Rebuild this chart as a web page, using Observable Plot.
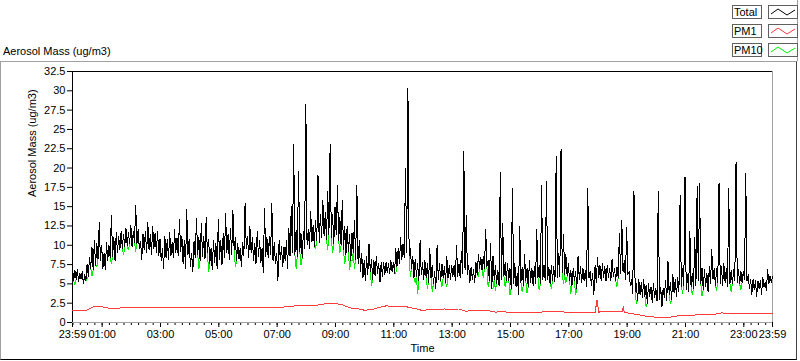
<!DOCTYPE html>
<html><head><meta charset="utf-8">
<script src="https://cdn.jsdelivr.net/npm/d3@7"></script>
<script src="https://cdn.jsdelivr.net/npm/@observablehq/plot@0.6"></script>
<style>
html,body{margin:0;padding:0;background:#fff;}
#wrap{position:relative;width:800px;height:361px;overflow:hidden;font-family:"Liberation Sans",Arial,sans-serif;font-size:11px;color:#000;}
#chart{position:absolute;left:0;top:0;}
.title{position:absolute;left:3px;top:45px;line-height:13px;white-space:nowrap;}
.panel{position:absolute;left:0;top:61px;width:795px;height:297px;border-top:1px solid #a0a0a0;border-left:1px solid #a0a0a0;border-right:1px solid #404040;border-bottom:1px solid #000;}
.vline{position:absolute;left:797px;top:0;width:1px;height:61px;background:#a0a0a0;}
.lab{position:absolute;left:732px;width:27px;height:12px;border:1px solid #606060;line-height:12px;padding-left:1px;white-space:nowrap;background:#fff;}
.sw{position:absolute;left:768px;width:28px;height:12px;border:1px solid #606060;background:#fff;}
.sw svg{display:block;}
.crisp path{shape-rendering:crispEdges;}
</style>
</head><body>
<div id="wrap">
  <div class="panel"></div>
  <div class="vline"></div>
  <div class="title">Aerosol Mass (ug/m3)</div>
  <div id="legend"></div>
  <div id="chart"></div>
</div>
<script>
// ---------- data ----------
const seriesNames = ["Total", "PM1", "PM10"];
const seriesColors = ["#000000", "#ff3c3c", "#00f000"];
const yTitle = "Aerosol Mass (ug/m3)";
const xTitle = "Time";
const yTickValues = [0,2.5,5,7.5,10,12.5,15,17.5,20,22.5,25,27.5,30,32.5];
const xTickLabels = ["23:59","01:00","03:00","05:00","07:00","09:00","11:00","13:00","15:00","17:00","19:00","21:00","23:00","23:59"];
// Total & PM10: readings every 2.5 min from 23:59; "A" at 0, 5, 10 ... min (upper side), "B" at 2.5, 7.5 ... min (lower side)
const totalA = [
7.2,6.8,6.9,6.4,6.6,6.2,7.6,8.4,9.8,10.6,
10.2,12.9,10.0,9.0,10.3,10.0,13.9,11.0,11.6,11.2,
11.8,11.4,12.2,11.6,12.6,11.8,15.2,12.0,10.5,11.5,
11.8,12.9,11.4,12.4,11.6,11.8,10.8,9.6,11.2,10.8,
11.6,10.4,12.0,11.0,13.3,11.2,10.6,14.7,10.8,9.0,
10.5,13.5,11.0,12.8,11.2,13.6,10.8,9.6,10.6,10.2,
13.4,10.6,11.6,14.1,11.4,12.2,14.5,11.0,10.2,9.6,
10.4,15.4,11.2,12.4,11.0,10.2,11.8,10.6,9.6,14.8,
11.0,11.2,15.4,10.4,9.0,10.6,9.8,9.8,10.6,12.2,
15.0,23.0,12.0,19.6,11.6,11.8,28.3,12.0,14.4,12.6,
13.2,19.1,14.0,15.8,14.2,17.0,23.1,14.0,15.0,17.7,
13.6,15.8,12.4,12.5,11.4,11.6,13.2,17.7,10.6,9.0,
8.0,8.6,10.2,8.2,8.0,8.6,7.6,7.8,7.8,7.8,
7.6,8.0,7.8,9.6,9.6,11.0,10.2,19.9,30.3,9.6,
8.6,8.2,7.6,10.6,7.8,8.0,7.6,9.6,7.4,6.6,
10.0,7.6,7.6,7.2,8.6,7.4,7.4,7.4,10.0,7.6,
9.2,22.1,13.8,7.4,7.2,6.8,7.8,8.8,8.4,8.6,
12.1,8.0,10.2,8.6,7.4,6.8,19.4,12.8,7.8,7.6,
7.0,17.4,7.6,6.4,12.5,7.2,8.8,7.0,8.0,7.0,
7.2,12.1,7.4,17.7,7.4,18.3,7.2,7.4,7.2,21.5,
9.0,22.5,11.4,8.8,7.6,6.8,7.0,6.6,8.6,7.2,
7.0,6.8,17.4,6.6,6.4,7.4,8.4,7.4,7.6,7.2,
7.4,7.0,8.2,7.0,7.2,11.5,13.2,8.0,12.3,6.6,
5.6,17.0,5.0,5.6,5.2,5.6,4.8,5.0,4.6,5.0,
4.4,17.0,4.6,4.4,5.4,7.9,5.2,6.2,5.6,5.8,
16.4,7.0,18.8,6.2,11.8,6.4,11.0,17.6,18.0,7.0,
6.8,6.4,7.2,9.5,7.0,7.0,18.0,7.2,7.6,7.0,
17.4,6.8,6.8,20.8,6.8,6.6,6.6,19.3,6.2,5.6,
5.6,5.4,5.4,5.4,5.8,5.2,6.9,6.0,6.0
];
const totalB = [
5.4,5.6,5.3,5.6,5.0,5.4,6.0,7.0,6.8,7.4,
8.2,8.0,7.0,6.8,8.0,8.4,8.6,8.0,9.0,9.4,
9.6,9.8,10.0,10.2,9.8,10.4,10.2,9.6,8.2,9.4,
9.0,9.4,8.8,9.6,9.0,8.6,8.0,7.0,8.4,8.2,
8.6,8.4,9.0,8.6,9.2,7.6,7.0,8.8,7.2,6.6,
8.4,8.8,8.0,8.6,8.2,9.0,7.6,6.8,7.8,7.0,
8.2,7.4,8.4,9.0,8.2,8.8,9.4,8.0,8.2,7.2,
8.6,9.6,8.4,9.0,8.0,7.6,8.6,7.8,6.4,8.6,
8.4,8.8,8.0,7.6,5.4,8.2,7.2,8.0,7.0,8.6,
9.0,8.8,8.6,9.2,8.4,9.6,10.0,9.6,10.4,9.8,
10.6,10.4,11.0,11.2,10.8,11.4,11.0,10.2,11.4,10.6,
10.0,9.4,8.8,9.2,8.0,9.0,8.2,7.6,6.6,5.8,
5.4,6.2,6.6,5.6,6.0,6.4,5.2,6.0,6.2,6.4,
6.4,6.6,6.4,7.2,7.6,8.2,8.4,9.0,8.6,7.0,
5.8,6.0,5.4,6.2,5.6,5.8,5.2,5.8,5.0,4.4,
5.6,5.4,5.8,5.2,5.8,5.6,6.0,5.4,6.0,5.8,
6.4,6.8,6.2,5.2,5.6,5.2,6.2,7.0,6.8,7.0,
7.2,5.4,4.4,5.6,5.0,4.8,5.6,6.0,5.4,5.4,
4.4,5.0,4.6,3.6,5.2,4.8,5.4,4.6,5.2,4.8,
5.0,5.8,5.0,5.6,5.4,5.6,5.0,5.4,5.2,5.8,
6.0,6.4,6.2,6.0,5.4,4.8,5.4,4.4,5.6,5.2,
5.4,4.6,5.8,4.8,3.6,5.2,5.8,5.4,5.8,5.4,
5.8,5.4,6.0,5.4,5.8,6.4,6.6,5.6,6.2,4.8,
3.8,4.0,2.8,3.6,3.2,3.4,2.5,3.4,2.6,3.2,
2.8,3.0,2.0,3.2,2.8,3.6,3.0,3.8,3.4,4.0,
4.6,4.8,4.2,4.0,4.6,4.4,4.8,5.4,5.0,4.2,
4.6,4.0,5.0,5.6,4.8,5.2,5.0,4.8,5.2,4.6,
5.0,5.0,5.4,5.2,5.0,5.2,5.6,5.4,4.4,3.6,
4.2,3.4,4.4,3.6,4.6,4.2,5.0,5.2
];
const pm10A = [
7.2,4.9,6.9,6.4,6.6,6.2,5.6,8.4,6.0,10.6,
7.2,12.9,10.0,9.0,10.3,10.0,7.6,11.0,11.6,11.2,
11.8,8.8,12.2,9.4,12.6,11.8,9.2,12.0,10.5,11.5,
11.8,12.9,11.4,12.4,11.6,11.8,10.8,9.6,11.2,10.8,
11.6,10.4,12.0,11.0,13.3,11.2,10.6,14.7,10.8,9.0,
10.5,13.5,7.0,12.8,11.2,13.6,6.6,9.6,10.6,10.2,
13.4,10.6,11.6,14.1,11.4,12.2,14.5,7.2,10.2,9.6,
10.4,15.4,11.2,12.4,11.0,10.2,11.8,10.6,9.6,14.8,
11.0,11.2,15.4,10.4,9.0,10.6,9.8,9.8,10.6,12.2,
15.0,23.0,7.0,19.6,7.4,11.8,28.3,12.0,14.4,12.6,
9.6,19.1,14.0,15.8,14.2,9.4,23.1,9.0,15.0,17.7,
9.0,15.8,7.6,12.5,6.8,8.0,7.0,17.7,10.6,9.0,
8.0,8.6,10.2,4.8,8.0,8.6,7.6,7.8,7.8,7.8,
7.6,8.0,7.8,6.4,9.6,11.0,10.2,19.9,30.3,6.0,
8.6,5.2,3.7,10.6,7.8,8.0,4.4,9.6,4.0,6.6,
10.0,7.6,4.6,7.2,4.6,7.4,7.4,7.4,10.0,7.6,
9.2,22.1,13.8,7.4,7.2,6.8,7.8,6.0,8.4,5.8,
12.1,4.6,10.2,4.4,4.2,6.8,19.4,12.8,4.6,7.6,
3.6,17.4,7.6,6.4,12.5,4.0,8.8,3.8,8.0,7.0,
7.2,12.1,4.2,17.7,7.4,18.3,7.2,4.4,7.2,21.5,
9.0,22.5,5.0,5.2,7.6,3.8,7.0,3.6,8.6,7.2,
7.0,6.8,17.4,6.6,6.4,7.4,8.4,7.4,7.6,7.2,
7.4,7.0,8.2,7.0,4.6,11.5,13.2,8.0,12.3,6.6,
5.6,17.0,2.4,5.6,5.2,5.6,2.0,5.0,4.6,5.0,
4.4,17.0,4.6,4.4,5.4,7.9,2.4,6.2,5.6,5.8,
16.4,3.8,18.8,6.2,11.8,3.6,11.0,17.6,18.0,3.4,
6.8,6.4,7.2,9.5,7.0,4.2,18.0,7.2,7.6,7.0,
17.4,4.0,6.8,20.8,6.8,4.2,6.6,19.3,6.2,5.6,
5.6,5.4,5.4,5.4,5.8,5.2,6.9,6.0,6.0
];
const pm10B = [
5.4,5.6,5.3,5.6,5.0,5.4,6.0,7.0,6.8,7.4,
8.2,8.0,7.0,6.8,8.0,8.4,8.6,8.0,9.0,9.4,
9.6,9.8,10.0,10.2,9.8,10.4,10.2,9.6,8.2,9.4,
9.0,9.4,8.8,9.6,9.0,8.6,8.0,7.0,8.4,8.2,
8.6,8.4,9.0,8.6,9.2,7.6,7.0,8.8,7.2,6.6,
8.4,8.8,8.0,8.6,8.2,9.0,7.6,6.8,7.8,7.0,
8.2,7.4,8.4,9.0,8.2,8.8,9.4,8.0,8.2,7.2,
8.6,9.6,8.4,9.0,8.0,7.6,8.6,7.8,6.4,8.6,
8.4,8.8,8.0,7.6,5.4,8.2,7.2,8.0,7.0,8.6,
9.0,8.8,8.6,9.2,8.4,9.6,10.0,9.6,10.4,9.8,
10.6,10.4,11.0,11.2,10.8,11.4,11.0,10.2,11.4,10.6,
10.0,9.4,8.8,9.2,8.0,9.0,8.2,7.6,6.6,5.8,
5.4,6.2,6.6,5.6,6.0,6.4,5.2,6.0,6.2,6.4,
6.4,6.6,6.4,7.2,7.6,8.2,8.4,9.0,8.6,7.0,
5.8,6.0,5.4,6.2,5.6,5.8,5.2,5.8,5.0,4.4,
5.6,5.4,5.8,5.2,5.8,5.6,6.0,5.4,6.0,5.8,
6.4,6.8,6.2,5.2,5.6,5.2,6.2,7.0,6.8,7.0,
7.2,5.4,4.4,5.6,5.0,4.8,5.6,6.0,5.4,5.4,
4.4,5.0,4.6,3.6,5.2,4.8,5.4,4.6,5.2,4.8,
5.0,5.8,5.0,5.6,5.4,5.6,5.0,5.4,5.2,5.8,
6.0,6.4,6.2,6.0,5.4,4.8,5.4,4.4,5.6,5.2,
5.4,4.6,5.8,4.8,3.6,5.2,5.8,5.4,5.8,5.4,
5.8,5.4,6.0,5.4,5.8,6.4,6.6,5.6,6.2,4.8,
3.8,4.0,2.8,3.6,3.2,3.4,2.5,3.4,2.6,3.2,
2.8,3.0,2.0,3.2,2.8,3.6,3.0,3.8,3.4,4.0,
4.6,4.8,4.2,4.0,4.6,4.4,4.8,5.4,5.0,4.2,
4.6,4.0,5.0,5.6,4.8,5.2,5.0,4.8,5.2,4.6,
5.0,5.0,5.4,5.2,5.0,5.2,5.6,5.4,4.4,3.6,
4.2,3.4,4.4,3.6,4.6,4.2,5.0,5.2
];
// PM1: [minutes after 23:59, value]
const pm1 = [
[0,1.5],[15,1.5],[30,1.6],[45,2.1],[60,2.05],[75,1.85],[90,1.85],[105,1.9],[120,1.9],[135,1.95],
[150,1.9],[165,1.95],[180,1.9],[195,1.95],[210,1.9],[225,1.95],[240,1.9],[255,1.95],[270,1.9],[285,1.9],
[300,1.9],[315,1.95],[330,1.9],[345,1.95],[360,1.9],[375,1.95],[390,1.9],[405,1.95],[420,1.95],[435,2.0],
[450,2.1],[465,2.2],[480,2.25],[495,2.2],[510,2.3],[525,2.5],[540,2.45],[555,2.3],[570,1.9],[585,1.8],
[600,1.6],[615,1.65],[630,1.95],[645,2.15],[660,2.1],[675,2.1],[690,2.0],[705,1.8],[720,1.55],[735,1.7],
[750,1.7],[765,1.75],[780,1.7],[795,1.75],[810,1.45],[825,1.6],[840,1.6],[855,1.55],[870,1.35],[885,1.4],
[900,1.3],[915,1.25],[930,1.3],[945,1.3],[960,1.3],[975,1.45],[990,1.45],[1005,1.4],[1020,1.3],[1035,1.3],
[1050,1.3],[1065,1.25],[1076,1.3],[1078,2.9],[1080,2.8],[1082,1.35],[1095,1.4],[1110,1.4],[1125,1.4],[1131,1.35],
[1133,2.1],[1135,1.3],[1140,1.25],[1155,1.1],[1170,0.95],[1185,0.75],[1200,0.7],[1215,0.65],[1230,0.7],[1245,0.85],
[1260,0.9],[1275,0.95],[1290,1.0],[1305,1.0],[1320,1.05],[1335,1.25],[1350,1.15],[1365,1.15],[1380,1.2],[1395,1.15],
[1410,1.15],[1425,1.15],[1440,1.15]
];

// ---------- build ----------
const t0 = new Date(Date.UTC(2000,0,1,23,59));
const t1 = new Date(Date.UTC(2000,0,2,23,59));
const tAt = m => new Date(t0.getTime() + m*60000);
function interleave(A, B) {
  const out = [];
  A.forEach((v, i) => {
    out.push({t: tAt(i*5), v});
    if (i < B.length) out.push({t: tAt(i*5 + 2.5), v: B[i]});
  });
  return out;
}
const totalData = interleave(totalA, totalB);
const pm10Data = interleave(pm10A, pm10B);
const pm1Data = pm1.map(([m,v]) => ({t: tAt(m), v}));

const majorTicks = xTickLabels.map((s,i) => {
  const [h,mm] = s.split(":").map(Number);
  return new Date(Date.UTC(2000,0,i===0?1:2,h,mm));
});
const minorTicks = d3.utcMinute.every(15).range(t0, t1);
const fmt = d3.utcFormat("%H:%M");

const plot = Plot.plot({
  width: 800, height: 361,
  marginLeft: 72, marginRight: 28, marginTop: 71, marginBottom: 39,
  style: {background: "transparent", fontFamily: "'Liberation Sans', Arial, sans-serif", fontSize: "11px", color: "#000"},
  x: {type: "utc", domain: [t0, t1]},
  y: {domain: [0, 32.5]},
  marks: [
    Plot.axisY({ticks: yTickValues, tickSize: 5, tickPadding: 2, tickFormat: d => String(d), label: null}),
    Plot.axisX({ticks: minorTicks, tickSize: 3, tickFormat: () => "", label: null}),
    Plot.axisX({ticks: majorTicks, tickSize: 5, tickPadding: 3, tickFormat: d => fmt(d), label: null}),
    Plot.text([xTitle], {frameAnchor: "bottom", dy: 29, fill: "#000"}),
    Plot.text([yTitle], {frameAnchor: "left", rotate: -90, dx: -40, fill: "#000"}),
    Plot.ruleY([0], {stroke: "#a0a0a0"}),
    Plot.ruleX([t1], {stroke: "#a0a0a0"}),
    Plot.ruleY([32.5], {stroke: "#000"}),
    Plot.ruleX([t0], {stroke: "#000"}),
    Plot.line(pm1Data, {x: "t", y: "v", stroke: seriesColors[1], strokeWidth: 1, className: "crisp"}),
    Plot.line(pm10Data, {x: "t", y: "v", stroke: seriesColors[2], strokeWidth: 1, className: "crisp"}),
    Plot.line(totalData, {x: "t", y: "v", stroke: seriesColors[0], strokeWidth: 1, className: "crisp"})
  ]
});
document.getElementById("chart").appendChild(plot);

// legend
const leg = document.getElementById("legend");
const tops = [5, 24, 43];
seriesNames.forEach((name, i) => {
  const lab = document.createElement("div");
  lab.className = "lab"; lab.style.top = tops[i] + "px"; lab.textContent = name;
  leg.appendChild(lab);
  const sw = document.createElement("div");
  sw.className = "sw"; sw.style.top = tops[i] + "px";
  sw.innerHTML = `<svg width="28" height="12"><polyline points="2,8 9,3 18,9 26,4" fill="none" stroke="${seriesColors[i]}" stroke-width="1"/></svg>`;
  leg.appendChild(sw);
});
</script>
</body></html>
